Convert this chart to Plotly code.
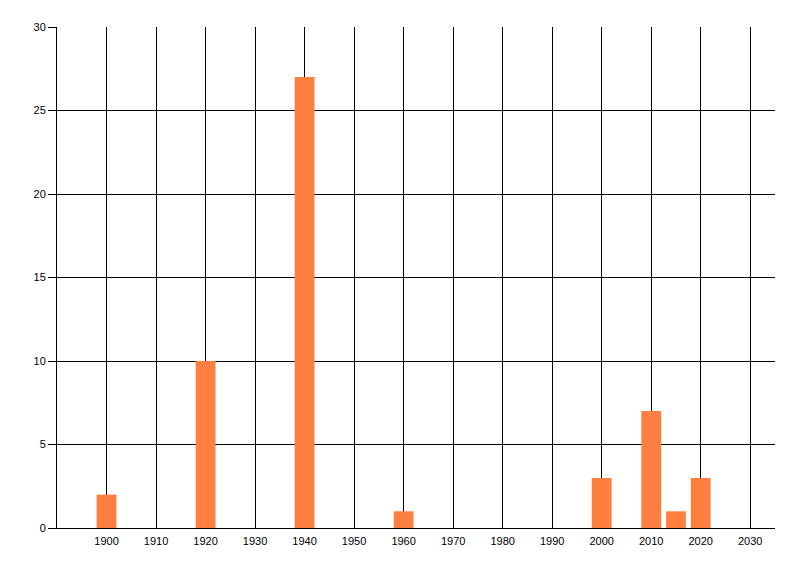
import plotly.graph_objects as go

years = [1900, 1920, 1940, 1960, 2000, 2010, 2015, 2020]
counts = [2, 10, 27, 1, 3, 7, 1, 3]
x_ticks = list(range(1900, 2031, 10))
y_ticks = [0, 5, 10, 15, 20, 25, 30]

fig = go.Figure(go.Bar(x=years, y=counts, width=4,
                       marker=dict(color="#FF7F40", line=dict(width=0))))

font = dict(family="Liberation Sans, Arial, sans-serif", size=11, color="#000000")
fig.update_layout(
    width=800, height=576,
    margin=dict(l=49, r=33, t=19, b=56),
    paper_bgcolor="white", plot_bgcolor="white",
    showlegend=False,
    font=font,
    xaxis=dict(range=[1890, 2035], tickvals=x_ticks, ticktext=[str(v) for v in x_ticks],
               showgrid=True, gridcolor="black", gridwidth=1,
               showline=True, linecolor="black", linewidth=1,
               zeroline=False, ticks="outside", ticklen=3, tickcolor="rgba(0,0,0,0)",
               tickfont=font),
    yaxis=dict(range=[0, 30], tickvals=y_ticks,
               showgrid=True, gridcolor="black", gridwidth=1,
               showline=True, linecolor="black", linewidth=1,
               zeroline=False, ticks="outside", ticklen=8, tickcolor="black",
               tickfont=font),
)
fig.write_html("out.html")
